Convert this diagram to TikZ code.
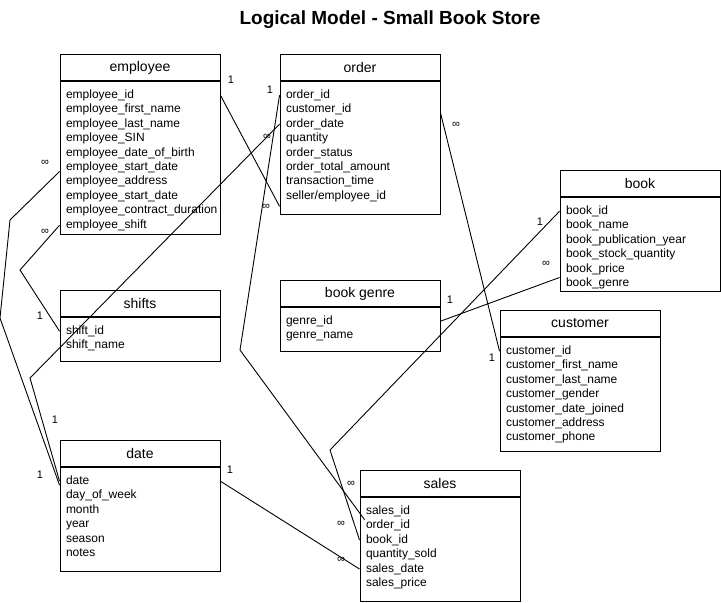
\documentclass[tikz,border=0pt]{standalone}
\usepackage{fontspec}
\setmainfont{Liberation Sans}
\usetikzlibrary{positioning}

\begin{document}
\begin{tikzpicture}[x=1pt,y=-1pt,line width=0.9pt,
  head/.style={draw,minimum width=160pt,minimum height=26pt,inner sep=0pt,font=\fontsize{14}{16}\selectfont},
  tbody/.style={draw,minimum width=160pt,inner sep=0pt,anchor=north},
  field/.style={anchor=north,text width=148pt,inner xsep=6pt,inner ysep=0pt,minimum height=14.45pt,
    text height=9pt,text depth=3pt,align=left,font=\fontsize{12}{14}\selectfont},
  card/.style={inner sep=1pt,font=\fontsize{11}{13}\selectfont}]
  \useasboundingbox (0,0) rectangle (721,603);
  \node[font=\bfseries\fontsize{19}{22}\selectfont] (title) at (390,20) {Logical Model - Small Book Store};

  % tables
  \node[head] (emp) at (140,67.5) {employee};
  \node[tbody,minimum height=153pt] (emp-b) at (emp.south) {};
  \foreach \fld [count=\i] in {employee\_id,employee\_first\_name,employee\_last\_name,employee\_SIN,
      employee\_date\_of\_birth,employee\_start\_date,employee\_address,employee\_start\_date,
      employee\_contract\_duration,employee\_shift}
    \node[field] (emp-\i) at ([yshift={-6.6pt-(\i-1)*14.45pt}]emp.south) {\fld};

  \node[head] (ord) at (360,67.5) {order};
  \node[tbody,minimum height=133pt] (ord-b) at (ord.south) {};
  \foreach \fld [count=\i] in {order\_id,customer\_id,order\_date,quantity,order\_status,
      order\_total\_amount,transaction\_time,seller/employee\_id}
    \node[field] (ord-\i) at ([yshift={-6.6pt-(\i-1)*14.45pt}]ord.south) {\fld};

  \node[head] (book) at (640,183.5) {book};
  \node[tbody,minimum height=94pt] (book-b) at (book.south) {};
  \foreach \fld [count=\i] in {book\_id,book\_name,book\_publication\_year,book\_stock\_quantity,
      book\_price,book\_genre}
    \node[field] (book-\i) at ([yshift={-6.6pt-(\i-1)*14.45pt}]book.south) {\fld};

  \node[head] (genre) at (360,293.5) {book genre};
  \node[tbody,minimum height=44pt] (genre-b) at (genre.south) {};
  \foreach \fld [count=\i] in {genre\_id,genre\_name}
    \node[field] (genre-\i) at ([yshift={-6.6pt-(\i-1)*14.45pt}]genre.south) {\fld};

  \node[head] (cust) at (580,323.5) {customer};
  \node[tbody,minimum height=114pt] (cust-b) at (cust.south) {};
  \foreach \fld [count=\i] in {customer\_id,customer\_first\_name,customer\_last\_name,customer\_gender,
      customer\_date\_joined,customer\_address,customer\_phone}
    \node[field] (cust-\i) at ([yshift={-6.6pt-(\i-1)*14.45pt}]cust.south) {\fld};

  \node[head] (shift) at (140,303.5) {shifts};
  \node[tbody,minimum height=44pt] (shift-b) at (shift.south) {};
  \foreach \fld [count=\i] in {shift\_id,shift\_name}
    \node[field] (shift-\i) at ([yshift={-6.6pt-(\i-1)*14.45pt}]shift.south) {\fld};

  \node[head] (date) at (140,453.5) {date};
  \node[tbody,minimum height=104pt] (date-b) at (date.south) {};
  \foreach \fld [count=\i] in {date,day\_of\_week,month,year,season,notes}
    \node[field] (date-\i) at ([yshift={-6.6pt-(\i-1)*14.45pt}]date.south) {\fld};

  \node[head] (sales) at (440,483.5) {sales};
  \node[tbody,minimum height=104pt] (sales-b) at (sales.south) {};
  \foreach \fld [count=\i] in {sales\_id,order\_id,book\_id,quantity\_sold,sales\_date,sales\_price}
    \node[field] (sales-\i) at ([yshift={-6.6pt-(\i-1)*14.45pt}]sales.south) {\fld};

  % bends
  \coordinate (bend-od) at (30,378);
  \coordinate (bend-sd1) at (10,220);
  \coordinate (bend-sd2) at (0,318);
  \coordinate (bend-sh) at (20,270);
  \coordinate (bend-os) at (240,350);
  \coordinate (bend-bs) at (330,450);

  % relations
  \draw (emp-1.east) -- ([yshift=-10pt]ord-8.west);
  \draw (ord-3.west) -- (bend-od) -- (date-1.west);
  \draw ([yshift=-4pt]emp-6.west) -- (bend-sd1) -- (bend-sd2) -- ([yshift=-4pt]date-1.west);
  \draw (emp-10.west) -- (bend-sh) -- (shift-1.west);
  \draw (ord-1.west) -- (bend-os) -- ([xshift=5pt,yshift=6pt]sales-2.west);
  \draw ([yshift=-3pt]ord-2.east) -- (cust-1.west);
  \draw (book-1.west) -- (bend-bs) -- (sales-3.west);
  \draw ([yshift=6pt]book-6.west) -- (genre-1.east);
  \draw (date-1.east) -- (sales-5.west);

  % cardinalities
  \node[card] (c-empid) at (231,80) {1};
  \node[card] (c-ordid) at (270,90) {1};
  \node[card] (c-orddate) at (267,137) {∞};
  \node[card] (c-seller) at (266,207) {∞};
  \node[card] (c-custid) at (456,125) {∞};
  \node[card] (c-start) at (45,163) {∞};
  \node[card] (c-empshift) at (45,232) {∞};
  \node[card] (c-shiftid) at (40,316) {1};
  \node[card] (c-date1) at (55,420) {1};
  \node[card] (c-date2) at (40,475) {1};
  \node[card] (c-date3) at (230,470) {1};
  \node[card] (c-salesord) at (351,484) {∞};
  \node[card] (c-salesbook) at (341,524) {∞};
  \node[card] (c-salesdate) at (341,560) {∞};
  \node[card] (c-bookid) at (540,222) {1};
  \node[card] (c-bookgenre) at (546,264) {∞};
  \node[card] (c-genreid) at (450,300) {1};
  \node[card] (c-customer) at (492,358) {1};
\end{tikzpicture}
\end{document}
